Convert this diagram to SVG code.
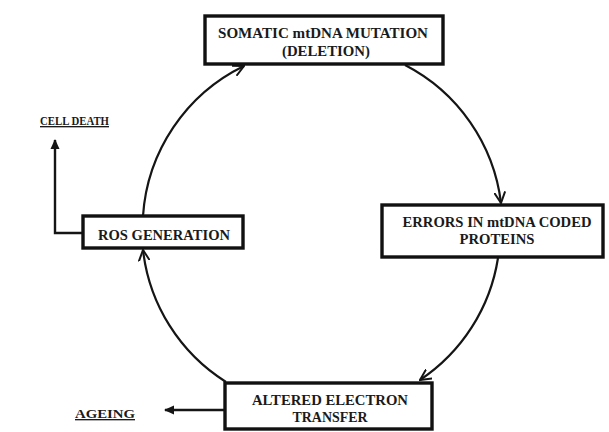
<svg xmlns="http://www.w3.org/2000/svg" width="609" height="432" viewBox="0 0 609 432">
<style>
.box{fill:#fff;stroke:#111;stroke-width:3.4}
.lbl{font-family:"Liberation Serif","Times New Roman",serif;font-weight:bold;font-size:14.5px;fill:#1a1a1a;text-anchor:middle}
.out{font-family:"Liberation Serif","Times New Roman",serif;font-weight:bold;font-size:13.5px;fill:#1a1a1a;text-decoration:underline}
.arc{fill:none;stroke:#151515;stroke-width:2.2}
.side{fill:none;stroke:#151515;stroke-width:2.4}
</style>
<defs>
<marker id="v" viewBox="0 0 12 12" refX="11" refY="6" markerWidth="12" markerHeight="12" markerUnits="userSpaceOnUse" orient="auto">
<path d="M0,0.5 L11,6 L0,11.5" fill="none" stroke="#151515" stroke-width="2"/>
</marker>
<marker id="f" viewBox="0 0 10 10" refX="9" refY="5" markerWidth="11" markerHeight="10" markerUnits="userSpaceOnUse" orient="auto">
<path d="M0,0.5 L10,5 L0,9.5 Z" fill="#151515"/>
</marker>
</defs>
<rect width="609" height="432" fill="#fff"/>
<g id="connectors">
<path class="arc" d="M405,65 A180,180 0 0 1 501,203" marker-end="url(#v)"/>
<path class="arc" d="M498,258 A180,180 0 0 1 420,380" marker-end="url(#v)"/>
<path class="arc" d="M226,382 A180,180 0 0 1 143,250" marker-end="url(#v)"/>
<path class="arc" d="M143,216 A180,180 0 0 1 244,66" marker-end="url(#v)"/>
<path class="side" d="M83,233 L55,233 L55,140" marker-end="url(#f)"/>
<path class="side" d="M225,410 L165,410" marker-end="url(#f)"/>
</g>
<g id="somatic">
<rect class="box" x="205" y="16" width="238" height="48"/>
<text class="lbl" x="323" y="38" textLength="210" lengthAdjust="spacingAndGlyphs">SOMATIC mtDNA MUTATION</text>
<text class="lbl" x="326" y="56" textLength="88" lengthAdjust="spacingAndGlyphs">(DELETION)</text>
</g>
<g id="errors">
<rect class="box" x="382" y="205" width="221" height="52"/>
<text class="lbl" x="497" y="227" textLength="189" lengthAdjust="spacingAndGlyphs">ERRORS IN mtDNA CODED</text>
<text class="lbl" x="497" y="244" textLength="75" lengthAdjust="spacingAndGlyphs">PROTEINS</text>
</g>
<g id="ros">
<rect class="box" x="83" y="216" width="160" height="32"/>
<text class="lbl" x="164" y="240" textLength="132" lengthAdjust="spacingAndGlyphs">ROS GENERATION</text>
</g>
<g id="altered">
<rect class="box" x="225" y="383" width="207" height="46"/>
<text class="lbl" x="330" y="405" textLength="156" lengthAdjust="spacingAndGlyphs">ALTERED ELECTRON</text>
<text class="lbl" x="330" y="422" textLength="75" lengthAdjust="spacingAndGlyphs">TRANSFER</text>
</g>
<g id="cell-death">
<text class="out" x="40" y="125" textLength="69" lengthAdjust="spacingAndGlyphs">CELL DEATH</text>
</g>
<g id="ageing">
<text class="out" x="75" y="418" textLength="60" lengthAdjust="spacingAndGlyphs">AGEING</text>
</g>
</svg>
